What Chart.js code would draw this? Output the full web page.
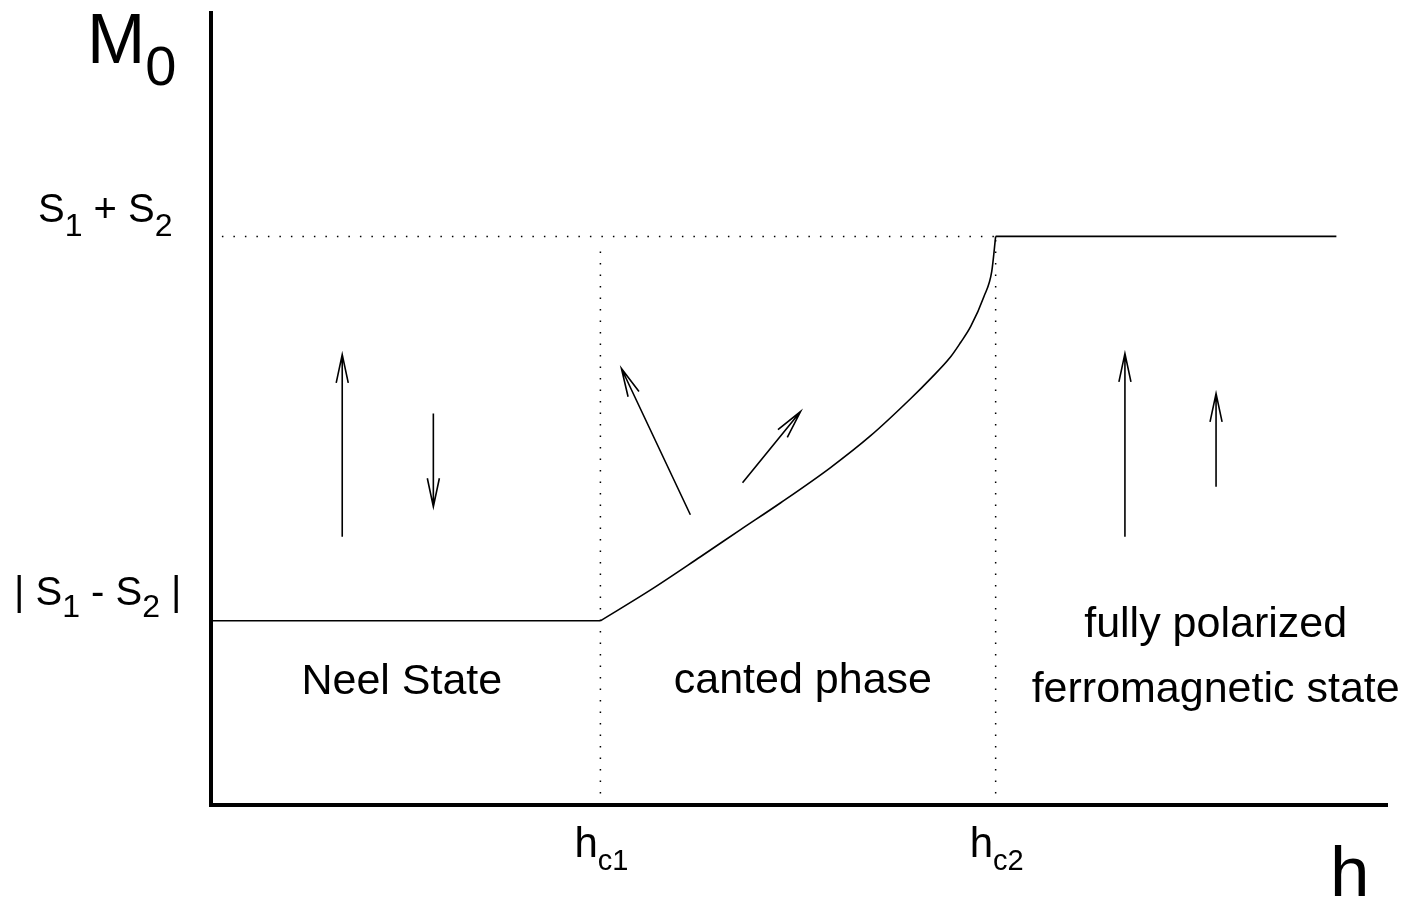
<!DOCTYPE html>
<html>
<head>
<meta charset="utf-8">
<script src="https://cdn.jsdelivr.net/npm/chart.js@4/dist/chart.umd.min.js"></script>
<style>
  html, body { margin: 0; padding: 0; background: #fff; }
  canvas { display: block; }
</style>
</head>
<body>
<canvas id="phase" width="1411" height="903"></canvas>
<script>
// critical fields and magnetisation levels (arbitrary units)
var hc1 = 1.0;
var hc2 = 2.015;
var mLow = 1.0;    // |S1 - S2|
var mHigh = 3.087; // S1 + S2
var hMax = 3.02;
var mMax = 4.30;
var hEnd = 2.89;   // where the saturated plateau stops

// canted phase rise of M0(h) between hc1 and hc2
var cantedH = [1.0, 1.129, 1.257, 1.360, 1.463, 1.591, 1.694, 1.797, 1.848, 1.900, 1.925, 1.951, 1.985, 2.005, 2.015];
var cantedM = [1.0, 1.168, 1.348, 1.495, 1.641, 1.832, 2.005, 2.207, 2.315, 2.435, 2.511, 2.598, 2.761, 2.897, 3.087];

// spin arrows (tail -> tip)
var arrowTailH = [0.337, 0.571, 1.231, 1.365, 2.347, 2.581];
var arrowTailM = [1.457, 2.125, 1.576, 1.750, 1.457, 1.728];
var arrowTipH  = [0.337, 0.571, 1.054, 1.514, 2.347, 2.581];
var arrowTipM  = [2.446, 1.620, 2.370, 2.136, 2.451, 2.234];

// region labels
var regionNames = [["Neel State"], ["canted phase"], ["fully polarized", "ferromagnetic state"]];
var regionH = [0.49, 1.52, 2.58];
var regionM = [0.60, 0.61, 0.91];

var FONT = "'Liberation Sans', Arial, Helvetica, sans-serif";

function xy(hs, ms) {
	var out = [];
	for (var i = 0; i < hs.length; i++) out.push({x: hs[i], y: ms[i]});
	return out;
}

// draws text pieces like [["S",39],["1",32,12]] starting at x, baseline y
function drawRich(ctx, parts, x, y) {
	var cx = x;
	for (var i = 0; i < parts.length; i++) {
		var p = parts[i];
		ctx.font = p[1] + "px " + FONT;
		ctx.fillText(p[0], cx, y + (p[2] || 0));
		cx += ctx.measureText(p[0]).width;
	}
}

var annotations = {
	id: "annotations",
	afterDatasetsDraw: function(chart) {
		var ctx = chart.ctx;
		var xs = chart.scales.x, ys = chart.scales.y;
		ctx.save();

		// arrows
		ctx.strokeStyle = "#000";
		ctx.lineWidth = 1.6;
		var headLen = 29, headAng = 12 * Math.PI / 180;
		for (var i = 0; i < arrowTailH.length; i++) {
			var x0 = xs.getPixelForValue(arrowTailH[i]), y0 = ys.getPixelForValue(arrowTailM[i]);
			var x1 = xs.getPixelForValue(arrowTipH[i]), y1 = ys.getPixelForValue(arrowTipM[i]);
			var a = Math.atan2(y0 - y1, x0 - x1);
			ctx.beginPath();
			ctx.moveTo(x0, y0);
			ctx.lineTo(x1, y1);
			ctx.moveTo(x1 + headLen * Math.cos(a + headAng), y1 + headLen * Math.sin(a + headAng));
			ctx.lineTo(x1, y1);
			ctx.lineTo(x1 + headLen * Math.cos(a - headAng), y1 + headLen * Math.sin(a - headAng));
			ctx.stroke();
		}

		ctx.fillStyle = "#000";
		ctx.textBaseline = "alphabetic";

		// region labels
		ctx.textAlign = "center";
		ctx.font = "43px " + FONT;
		for (var r = 0; r < regionNames.length; r++) {
			var lines = regionNames[r];
			var px = xs.getPixelForValue(regionH[r]);
			var py = ys.getPixelForValue(regionM[r]);
			for (var l = 0; l < lines.length; l++) {
				ctx.fillText(lines[l], px, py + l * 65);
			}
		}

		// axis labels with subscripts
		ctx.textAlign = "left";
		var left = chart.chartArea.left, bottom = chart.chartArea.bottom;
		drawRich(ctx, [["S", 40], ["1", 32, 14], [" + ", 40], ["S", 40], ["2", 32, 14]], 38, ys.getPixelForValue(mHigh) - 14);
		drawRich(ctx, [["| ", 40], ["S", 40], ["1", 32, 12], [" - ", 40], ["S", 40], ["2", 32, 12], [" |", 40]], 14, ys.getPixelForValue(mLow) - 16);
		drawRich(ctx, [["h", 42], ["c1", 29, 13]], xs.getPixelForValue(hc1) - 26, bottom + 52);
		drawRich(ctx, [["h", 42], ["c2", 29, 13]], xs.getPixelForValue(hc2) - 26, bottom + 52);
		drawRich(ctx, [["M", 70], ["0", 56, 22]], left - 124, 63);
		drawRich(ctx, [["h", 71]], 1330, bottom + 91);

		ctx.restore();
	}
};

var solid = { borderColor: "#000", borderWidth: 1.6, pointRadius: 0, fill: false };
var dotted = { borderColor: "#000", borderWidth: 1.5, borderDash: [1.5, 10], pointRadius: 0, fill: false };

new Chart(document.getElementById("phase"), {
	type: "line",
	data: {
		datasets: [
			Object.assign({ label: "Neel", data: xy([0, hc1], [mLow, mLow]) }, solid),
			Object.assign({ label: "canted", data: xy(cantedH, cantedM), cubicInterpolationMode: "monotone" }, solid),
			Object.assign({ label: "ferro", data: xy([hc2, hEnd], [mHigh, mHigh]) }, solid),
			Object.assign({ label: "saturation", data: xy([0.028, hc2], [mHigh, mHigh]) }, dotted),
			Object.assign({ label: "hc1", data: xy([hc1, hc1], [0, 3.04]) }, dotted),
			Object.assign({ label: "hc2", data: xy([hc2, hc2], [0, mHigh]) }, dotted)
		]
	},
	options: {
		responsive: false,
		animation: false,
		devicePixelRatio: 1,
		layout: { padding: { left: 211, top: 13, right: 24, bottom: 98 } },
		plugins: { legend: { display: false }, tooltip: { enabled: false } },
		scales: {
			x: {
				type: "linear",
				min: 0, max: hMax,
				ticks: { display: false },
				grid: { display: false, drawTicks: false },
				border: { display: true, color: "#000", width: 4 }
			},
			y: {
				type: "linear",
				min: 0, max: mMax,
				ticks: { display: false },
				grid: { display: false, drawTicks: false },
				border: { display: true, color: "#000", width: 4 }
			}
		}
	},
	plugins: [annotations]
});
</script>
</body>
</html>
